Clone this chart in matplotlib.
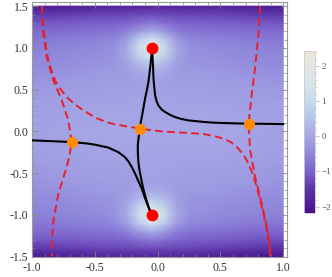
import numpy as np
import matplotlib
matplotlib.use("Agg")
import matplotlib.pyplot as plt
from matplotlib.colors import LinearSegmentedColormap
from matplotlib.ticker import MultipleLocator, FormatStrFormatter

plt.rcParams['font.family'] = ['Liberation Serif', 'DejaVu Serif']

# background field on a coarse grid (rows go bottom -> top)
x_nodes = [-1.0, -0.7, -0.45, -0.35, -0.25, -0.15, -0.05, 0.05, 0.15, 0.25, 0.45, 0.7, 1.0]
y_nodes = [-1.5, -1.4, -1.3, -1.2, -1.1, -1.0, -0.9, -0.8, -0.7, -0.6, -0.3, 0.0,
           0.3, 0.6, 0.7, 0.8, 0.9, 1.0, 1.1, 1.2, 1.3, 1.4, 1.5]
field = [
    [-1.95, -1.88, -1.8, -1.8, -1.8, -1.8, -1.78, -1.78, -1.8, -1.82, -1.88, -2.0, -2.1],
    [-1.45, -1.38, -1.3, -1.3, -1.29, -1.25, -1.22, -1.25, -1.29, -1.32, -1.36, -1.45, -1.55],
    [-1.12, -1.06, -1.0, -1.0, -0.95, -0.8, -0.7, -0.8, -0.95, -1.02, -1.05, -1.12, -1.2],
    [-0.9, -0.84, -0.78, -0.76, -0.6, -0.2, 0.1, -0.2, -0.6, -0.77, -0.8, -0.88, -0.95],
    [-0.72, -0.65, -0.58, -0.5, -0.15, 0.7, 1.4, 0.7, -0.15, -0.5, -0.58, -0.66, -0.75],
    [-0.6, -0.52, -0.45, -0.36, 0.0, 1.1, 2.4, 1.1, 0.0, -0.36, -0.45, -0.52, -0.6],
    [-0.52, -0.45, -0.38, -0.3, 0.0, 0.8, 1.5, 0.8, 0.0, -0.3, -0.38, -0.45, -0.52],
    [-0.45, -0.38, -0.3, -0.28, -0.1, 0.3, 0.55, 0.3, -0.1, -0.28, -0.3, -0.38, -0.45],
    [-0.38, -0.3, -0.22, -0.22, -0.16, 0.0, 0.1, 0.0, -0.16, -0.22, -0.22, -0.3, -0.38],
    [-0.3, -0.22, -0.15, -0.15, -0.14, -0.1, -0.07, -0.1, -0.14, -0.15, -0.15, -0.22, -0.3],
    [-0.12, -0.08, -0.05, -0.05, -0.05, -0.05, -0.05, -0.05, -0.05, -0.05, -0.05, -0.08, -0.12],
    [-0.08, -0.04, 0.0, 0.0, 0.0, 0.0, 0.0, 0.0, 0.0, 0.0, 0.0, -0.04, -0.08],
    [-0.12, -0.08, -0.05, -0.05, -0.05, -0.05, -0.05, -0.05, -0.05, -0.05, -0.05, -0.08, -0.12],
    [-0.3, -0.22, -0.15, -0.15, -0.14, -0.1, -0.07, -0.1, -0.14, -0.15, -0.15, -0.22, -0.3],
    [-0.38, -0.3, -0.22, -0.22, -0.16, 0.0, 0.1, 0.0, -0.16, -0.22, -0.22, -0.3, -0.38],
    [-0.45, -0.38, -0.3, -0.28, -0.1, 0.3, 0.55, 0.3, -0.1, -0.28, -0.3, -0.38, -0.45],
    [-0.52, -0.45, -0.38, -0.3, 0.0, 0.8, 1.5, 0.8, 0.0, -0.3, -0.38, -0.45, -0.52],
    [-0.6, -0.52, -0.45, -0.36, 0.0, 1.1, 2.4, 1.1, 0.0, -0.36, -0.45, -0.52, -0.6],
    [-0.72, -0.65, -0.58, -0.5, -0.15, 0.7, 1.4, 0.7, -0.15, -0.5, -0.58, -0.65, -0.72],
    [-0.9, -0.84, -0.78, -0.76, -0.6, -0.2, 0.1, -0.2, -0.6, -0.76, -0.78, -0.84, -0.9],
    [-1.12, -1.06, -1.0, -1.0, -0.95, -0.8, -0.7, -0.8, -0.95, -1.0, -1.0, -1.06, -1.12],
    [-1.45, -1.38, -1.3, -1.3, -1.29, -1.25, -1.22, -1.25, -1.29, -1.3, -1.3, -1.38, -1.45],
    [-1.95, -1.88, -1.8, -1.8, -1.8, -1.8, -1.78, -1.78, -1.8, -1.8, -1.8, -1.88, -1.95],
]
vmin, vmax = -2.18, 2.42

# solid black curves
black_a_x = [-1.0, -0.857, -0.679, -0.564, -0.498, -0.392, -0.312, -0.26, -0.233, -0.205,
             -0.179, -0.152, -0.126, -0.100, -0.078, -0.046]
black_a_y = [-0.108, -0.117, -0.129, -0.145, -0.16, -0.195, -0.25, -0.31, -0.36, -0.43,
             -0.508, -0.6, -0.688, -0.80, -0.889, -1.0]
black_b_x = [-0.139, -0.150, -0.158, -0.157, -0.153, -0.144, -0.131, -0.117, -0.100, -0.068, -0.046]
black_b_y = [0.032, -0.06, -0.169, -0.27, -0.369, -0.47, -0.569, -0.67, -0.769, -0.929, -1.0]
black_c_x = [-0.139, -0.135, -0.126, -0.113, -0.100, -0.086, -0.073, -0.065, -0.057, -0.05, -0.046]
black_c_y = [0.032, 0.1, 0.171, 0.28, 0.392, 0.49, 0.592, 0.69, 0.792, 0.9, 1.0]
black_d_x = [-0.046, -0.041, -0.036, -0.033, -0.026, -0.020, -0.008, 0.006, 0.03, 0.060, 0.1,
             0.139, 0.19, 0.246, 0.378, 0.445, 0.6, 0.724, 1.0]
black_d_y = [1.0, 0.912, 0.76, 0.632, 0.52, 0.432, 0.36, 0.312, 0.265, 0.231, 0.197,
             0.171, 0.148, 0.131, 0.111, 0.104, 0.096, 0.092, 0.087]

# red dashed curves
red_1_x = [-0.923, -0.914, -0.904, -0.888, -0.870, -0.845, -0.817, -0.775, -0.724, -0.66,
           -0.591, -0.498, -0.405, -0.339, -0.139, 0.033, 0.126, 0.25, 0.365, 0.46, 0.524,
           0.585, 0.631, 0.675, 0.711, 0.755, 0.790, 0.843, 0.883, 0.896]
red_1_y = [1.5, 1.33, 1.172, 1.0, 0.852, 0.73, 0.612, 0.51, 0.411, 0.325,
           0.252, 0.165, 0.11, 0.083, 0.032, -0.001, -0.01, -0.02, -0.032, -0.06, -0.088,
           -0.13, -0.189, -0.265, -0.349, -0.5, -0.669, -0.989, -1.269, -1.5]
red_2_x = [-0.923, -0.910, -0.883, -0.830, -0.763, -0.711, -0.684, -0.700, -0.724, -0.790,
           -0.830, -0.84, -0.843]
red_2_y = [1.5, 1.172, 0.892, 0.612, 0.372, 0.132, -0.125, -0.28, -0.429, -0.749,
           -1.069, -1.3, -1.5]
red_3_x = [0.817, 0.803, 0.777, 0.750, 0.724, 0.737, 0.777, 0.830, 0.875, 0.902]
red_3_y = [1.5, 1.172, 0.772, 0.452, 0.090, -0.229, -0.549, -0.869, -1.189, -1.5]

# points
orange_x = [-0.684, -0.139, 0.724]
orange_y = [-0.125, 0.032, 0.090]
red_pt_x = [-0.046, -0.046]
red_pt_y = [1.0, -1.0]

x_ticks = [-1.0, -0.5, 0.0, 0.5, 1.0]
y_ticks = [-1.5, -1.0, -0.5, 0.0, 0.5, 1.0, 1.5]
cbar_ticks = [-2, -1, 0, 1, 2]

lake = LinearSegmentedColormap.from_list("lake", [
    (0.0, "#46108a"),
    ((-1.5 - vmin) / (vmax - vmin), "#5c34a8"),
    ((-1.0 - vmin) / (vmax - vmin), "#7c62cc"),
    ((-0.5 - vmin) / (vmax - vmin), "#9088dc"),
    ((0.0 - vmin) / (vmax - vmin), "#a6a6e6"),
    ((0.5 - vmin) / (vmax - vmin), "#b4c2ea"),
    ((1.0 - vmin) / (vmax - vmin), "#c6dcec"),
    ((1.5 - vmin) / (vmax - vmin), "#d6e4ea"),
    ((2.0 - vmin) / (vmax - vmin), "#e4e6e2"),
    (1.0, "#ede5d5"),
])

fig = plt.figure(figsize=(3.32, 2.77), dpi=100)
ax = fig.add_axes([32/332, 1 - 256.5/277, 255/332, 254.5/277])

X, Y = np.meshgrid(x_nodes, y_nodes)
mesh = ax.pcolormesh(X, Y, np.array(field), cmap=lake, vmin=vmin, vmax=vmax,
                     shading='gouraud', zorder=1)

ax.plot(black_a_x, black_a_y, color='black', lw=1.5, zorder=3)
ax.plot(black_b_x, black_b_y, color='black', lw=1.5, zorder=3)
ax.plot(black_c_x, black_c_y, color='black', lw=1.5, zorder=3)
ax.plot(black_d_x, black_d_y, color='black', lw=1.5, zorder=3)

for rx, ry in [(red_1_x, red_1_y), (red_2_x, red_2_y), (red_3_x, red_3_y)]:
    ax.plot(rx, ry, color='#e8202a', lw=1.4, dashes=(4, 2.2), zorder=4)

ax.plot(orange_x, orange_y, 'o', color='#ff8c00', ms=8, mec='none', zorder=5)
ax.plot(red_pt_x, red_pt_y, 'o', color='#ff0000', ms=8.5, mec='none', zorder=5)

ax.set_xlim(-1.0, 1.03)
ax.set_ylim(-1.5, 1.55)
ax.set_xticks(x_ticks)
ax.set_yticks(y_ticks)
ax.xaxis.set_major_formatter(FormatStrFormatter('%.1f'))
ax.yaxis.set_major_formatter(FormatStrFormatter('%.1f'))
ax.xaxis.set_minor_locator(MultipleLocator(0.1))
ax.yaxis.set_minor_locator(MultipleLocator(0.1))
ax.tick_params(which='both', direction='in', top=True, right=True,
               color='#888888', labelcolor='#333333', labelsize=8.5)
ax.tick_params(axis='x', pad=4)
ax.tick_params(axis='y', pad=2.5)
ax.tick_params(which='major', length=4, width=0.6)
ax.tick_params(which='minor', length=2, width=0.5)
for s in ax.spines.values():
    s.set_color('#999999')
    s.set_linewidth(0.8)

# colorbar
cax = fig.add_axes([304/332, 1 - 213/277, 11/332, 162/277])
cb = fig.colorbar(mesh, cax=cax, ticks=cbar_ticks)
cb.outline.set_edgecolor('#cccccc')
cb.outline.set_linewidth(0.6)
cax.yaxis.set_minor_locator(MultipleLocator(0.2))
cax.tick_params(which='both', direction='out', color='#aaaaaa',
                labelcolor='#555555', labelsize=6.5, pad=1.5)
cax.tick_params(which='major', length=3, width=0.5)
cax.tick_params(which='minor', length=1.5, width=0.4)

fig.savefig('out.png', dpi=100)
